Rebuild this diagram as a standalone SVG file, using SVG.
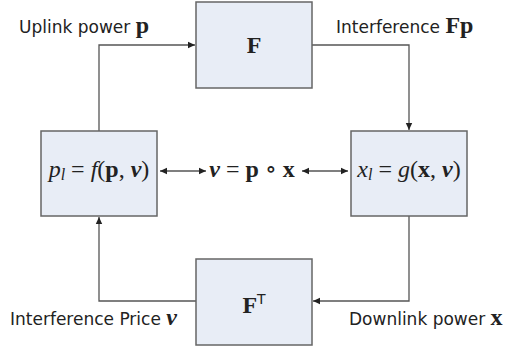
<svg xmlns="http://www.w3.org/2000/svg" width="509" height="351" viewBox="0 0 509 351">
<defs>
<marker id="ah" markerWidth="8" markerHeight="8" refX="7" refY="4" orient="auto-start-reverse" markerUnits="userSpaceOnUse">
<path d="M0,0.8 L7,4 L0,7.2 Z" fill="#222"/>
</marker>
<style>
.box{fill:#e8edf6;stroke:#666;stroke-width:1.5}
.ln{fill:none;stroke:#555;stroke-width:1.3}
.lbl{font-family:"DejaVu Sans","Liberation Sans",sans-serif;font-size:17px;fill:#222}
.m{font-family:"Liberation Serif","DejaVu Serif",serif;font-size:24px;fill:#222}
.bi{font-weight:bold;font-style:italic}
.b{font-weight:bold}
.i{font-style:italic}
</style>
</defs>
<rect width="509" height="351" fill="#fff"/>
<g id="connectors">
<path class="ln" d="M99,131 V45 H195" marker-end="url(#ah)"/>
<path class="ln" d="M312,45 H409 V130" marker-end="url(#ah)"/>
<path class="ln" d="M409,216 V301 H313" marker-end="url(#ah)"/>
<path class="ln" d="M196,301 H99 V217" marker-end="url(#ah)"/>
<path class="ln" d="M160,171 H206" marker-start="url(#ah)" marker-end="url(#ah)"/>
<path class="ln" d="M302,171 H348" marker-start="url(#ah)" marker-end="url(#ah)"/>
</g>
<g id="nodeF">
<rect class="box" x="196" y="2" width="116" height="86"/>
<text class="m b" x="254" y="53" text-anchor="middle" font-size="21">F</text>
</g>
<g id="nodeFT">
<rect class="box" x="196" y="259" width="116" height="86"/>
<text class="m" x="254" y="313" text-anchor="middle" font-size="21"><tspan class="b">F</tspan><tspan font-family="DejaVu Sans,sans-serif" font-size="14" dy="-9">T</tspan></text>
</g>
<g id="nodeP">
<rect class="box" x="41" y="131" width="116" height="85"/>
<text class="m" x="99" y="177" text-anchor="middle"><tspan class="i">p</tspan><tspan class="i" font-size="16" dy="3">l</tspan><tspan dy="-3"> = </tspan><tspan class="i">f</tspan>(<tspan class="b">p</tspan>, <tspan class="bi">ν</tspan>)</text>
</g>
<g id="nodeX">
<rect class="box" x="351" y="131" width="116" height="85"/>
<text class="m" x="409" y="177" text-anchor="middle"><tspan class="i">x</tspan><tspan class="i" font-size="16" dy="3">l</tspan><tspan dy="-3"> = </tspan><tspan class="i">g</tspan>(<tspan class="b">x</tspan>, <tspan class="bi">ν</tspan>)</text>
</g>
<g id="labels">
<text class="m" x="252" y="177" text-anchor="middle"><tspan class="bi">ν</tspan> = <tspan class="b">p</tspan> ∘ <tspan class="b">x</tspan></text>
<text class="lbl" x="19" y="33">Uplink power <tspan class="m b" font-size="21">p</tspan></text>
<text class="lbl" x="336" y="33">Interference <tspan class="m b" font-size="21">Fp</tspan></text>
<text class="lbl" x="10" y="325">Interference Price <tspan class="m bi" font-size="21">ν</tspan></text>
<text class="lbl" x="349" y="325">Downlink power <tspan class="m b" font-size="21">x</tspan></text>
</g>
</svg>
